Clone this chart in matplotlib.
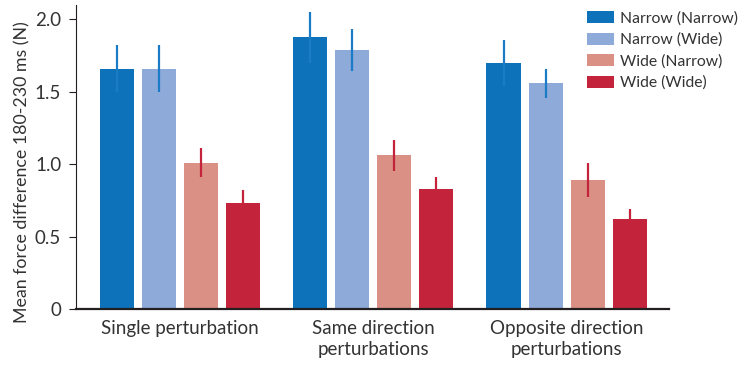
import numpy as np
import matplotlib
matplotlib.use("Agg")
import matplotlib.pyplot as plt

plt.rcParams['font.family'] = ['Lato', 'DejaVu Sans']

groups = ["Single perturbation", "Same direction\nperturbations", "Opposite direction\nperturbations"]
conditions = ["Narrow (Narrow)", "Narrow (Wide)", "Wide (Narrow)", "Wide (Wide)"]

# mean force difference per condition, one value per group
means = {
    "Narrow (Narrow)": [1.66, 1.875, 1.70],
    "Narrow (Wide)":   [1.66, 1.785, 1.56],
    "Wide (Narrow)":   [1.01, 1.06, 0.89],
    "Wide (Wide)":     [0.73, 0.83, 0.62],
}
errors = {
    "Narrow (Narrow)": [0.16, 0.175, 0.16],
    "Narrow (Wide)":   [0.16, 0.145, 0.10],
    "Wide (Narrow)":   [0.10, 0.11, 0.115],
    "Wide (Wide)":     [0.09, 0.08, 0.07],
}

bar_colors = ["#0d72ba", "#8eaad8", "#da9085", "#c3243b"]
err_colors = ["#1a7cc6", "#1a7cc6", "#c3243b", "#c3243b"]

fig = plt.figure(figsize=(7.41, 3.75), dpi=100)
ax = fig.add_axes([0.1032, 0.176, 0.7998, 0.811])

group_x = np.arange(len(groups)) * 4.6
offsets = [-1.5, -0.5, 0.5, 1.5]
width = 0.81

for i, cond in enumerate(conditions):
    x = group_x + offsets[i]
    ax.bar(x, means[cond], width=width, color=bar_colors[i], label=cond, zorder=2)
    ax.errorbar(x, means[cond], yerr=errors[cond], fmt='none', ecolor=err_colors[i],
                elinewidth=1.6, capsize=0, zorder=3)

ax.set_xlim(-2.46, 11.64)
ax.set_ylim(0, 2.1)
ax.set_yticks([0, 0.5, 1.0, 1.5, 2.0])
ax.set_yticklabels(["0", "0.5", "1.0", "1.5", "2.0"])
ax.set_xticks(group_x)
ax.set_xticklabels(groups, linespacing=1.25)

ax.spines['top'].set_visible(False)
ax.spines['right'].set_visible(False)
ax.spines['left'].set_color('#231f20')
ax.spines['left'].set_linewidth(0.8)
ax.spines['bottom'].set_color('#231f20')
ax.spines['bottom'].set_linewidth(1.6)
ax.spines['bottom'].set_zorder(4)

ax.tick_params(axis='y', direction='out', length=5, width=0.8, color='#231f20',
               labelsize=13.5, labelcolor='#333333', pad=6)
ax.tick_params(axis='x', length=0, labelsize=13.5, labelcolor='#333333', pad=8)

ax.set_ylabel("Mean force difference 180-230 ms (N)", fontsize=12.8, color='#333333')
ax.yaxis.set_label_coords(-0.078, 0.45)

ax.legend(loc='upper left', bbox_to_anchor=(587 / 741, 1 - 11 / 375),
          bbox_transform=fig.transFigure, frameon=False, fontsize=11.3,
          borderpad=0, borderaxespad=0, handlelength=1.7, handleheight=0.8,
          handletextpad=0.42, labelspacing=0.45, labelcolor='#333333')

fig.savefig("out.png", dpi=100)
